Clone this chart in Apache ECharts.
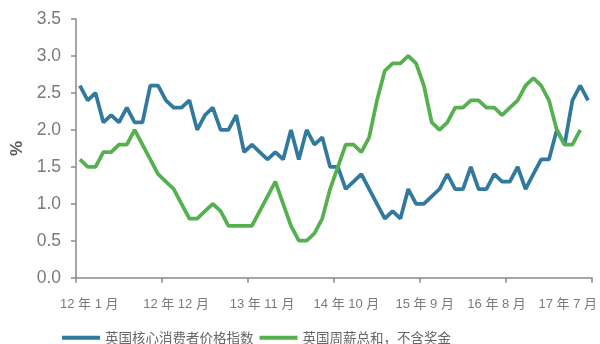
<!DOCTYPE html>
<html>
<head>
<meta charset="utf-8">
<script src="https://cdn.jsdelivr.net/npm/echarts@6/dist/echarts.min.js"></script>
<style>html,body{margin:0;padding:0;background:#fff;}#c{width:600px;height:344px;}</style>
</head>
<body>
<div id="c"></div>
<script>
// months from 2012-01 to 2017-06
var categories = [];
(function(){
  for (var y = 12; y <= 17; y++) {
    for (var m = 1; m <= 12; m++) {
      if (y === 17 && m > 6) break;
      categories.push(y + '年' + m + '月');
    }
  }
})();

var coreCPI = [
  2.6, 2.4, 2.5, 2.1, 2.2, 2.1, 2.3, 2.1, 2.1, 2.6, 2.6, 2.4,
  2.3, 2.3, 2.4, 2.0, 2.2, 2.3, 2.0, 2.0, 2.2, 1.7, 1.8, 1.7,
  1.6, 1.7, 1.6, 2.0, 1.6, 2.0, 1.8, 1.9, 1.5, 1.5, 1.2, 1.3,
  1.4, 1.2, 1.0, 0.8, 0.9, 0.8, 1.2, 1.0, 1.0, 1.1, 1.2, 1.4,
  1.2, 1.2, 1.5, 1.2, 1.2, 1.4, 1.3, 1.3, 1.5, 1.2, 1.4, 1.6,
  1.6, 2.0, 1.8, 2.4, 2.6, 2.4
];

var weeklyPay = [
  1.6, 1.5, 1.5, 1.7, 1.7, 1.8, 1.8, 2.0, 1.8, 1.6, 1.4, 1.3,
  1.2, 1.0, 0.8, 0.8, 0.9, 1.0, 0.9, 0.7, 0.7, 0.7, 0.7, 0.9,
  1.1, 1.3, 1.0, 0.7, 0.5, 0.5, 0.6, 0.8, 1.2, 1.5, 1.8, 1.8,
  1.7, 1.9, 2.4, 2.8, 2.9, 2.9, 3.0, 2.9, 2.6, 2.1, 2.0, 2.1,
  2.3, 2.3, 2.4, 2.4, 2.3, 2.3, 2.2, 2.3, 2.4, 2.6, 2.7, 2.6,
  2.4, 2.0, 1.8, 1.8, 2.0
];

var tickLabels = ['12 年 1 月', '12 年 12 月', '13 年 11 月', '14 年 10 月', '15 年 9 月', '16 年 8 月', '17 年 7 月'];
var seriesNames = ['英国核心消费者价格指数', '英国周薪总和，不含奖金'];

// label anchor positions along the category scale (layout only)
var labelAnchors = [1.7, 12.8, 23.8, 34.6, 44.6, 53.8, 62.9];

var chart = echarts.init(document.getElementById('c'), null, {renderer: 'canvas'});
var axisColor = '#898989';
var labelColor = '#7a7a7a';
chart.setOption({
  animation: false,
  backgroundColor: '#ffffff',
  grid: {left: 76, right: 6.6, top: 19, bottom: 66.3, containLabel: false},
  legend: {
    left: 57, top: 326,
    itemWidth: 38, itemHeight: 4, itemGap: 6,
    icon: 'rect',
    textStyle: {color: '#666666', fontSize: 13.5, fontFamily: 'Noto Sans CJK SC'},
    data: seriesNames
  },
  xAxis: [{
    type: 'category',
    data: categories,
    boundaryGap: true,
    axisLine: {lineStyle: {color: axisColor, width: 1.5}},
    axisTick: {show: true, interval: 10, length: 5, lineStyle: {color: axisColor, width: 1.5}},
    axisLabel: {show: false},
    splitLine: {show: false}
  }, {
    type: 'value',
    position: 'bottom',
    min: 0, max: 66,
    axisLine: {show: false},
    axisTick: {show: false},
    splitLine: {show: false},
    axisLabel: {
      show: true,
      customValues: labelAnchors,
      margin: 20,
      color: labelColor,
      fontSize: 13,
      fontFamily: 'Liberation Sans, Noto Sans CJK SC',
      formatter: function (v) {
        for (var i = 0; i < labelAnchors.length; i++) {
          if (Math.abs(labelAnchors[i] - v) < 1e-6) return tickLabels[i];
        }
        return '';
      }
    }
  }],
  yAxis: {
    type: 'value',
    min: 0, max: 3.5, interval: 0.5,
    name: '%',
    nameLocation: 'middle',
    nameGap: 47,
    nameRotate: 90,
    nameTextStyle: {color: '#595959', fontSize: 17, fontWeight: 'bold', fontFamily: 'Liberation Sans'},
    axisLine: {show: true, lineStyle: {color: axisColor, width: 1.5}},
    axisTick: {show: true, length: 5, lineStyle: {color: axisColor, width: 1.5}},
    axisLabel: {
      color: labelColor, fontSize: 17.5, margin: 15, fontFamily: 'Liberation Sans',
      formatter: function (v) { return v.toFixed(1); }
    },
    splitLine: {show: false}
  },
  series: [{
    name: seriesNames[0],
    type: 'line',
    xAxisIndex: 0,
    data: coreCPI,
    symbol: 'none',
    lineStyle: {color: '#31799d', width: 3.75},
    itemStyle: {color: '#31799d'}
  }, {
    name: seriesNames[1],
    type: 'line',
    xAxisIndex: 0,
    data: weeklyPay,
    symbol: 'none',
    lineStyle: {color: '#55b150', width: 3.75},
    itemStyle: {color: '#55b150'}
  }]
});
</script>
</body>
</html>
